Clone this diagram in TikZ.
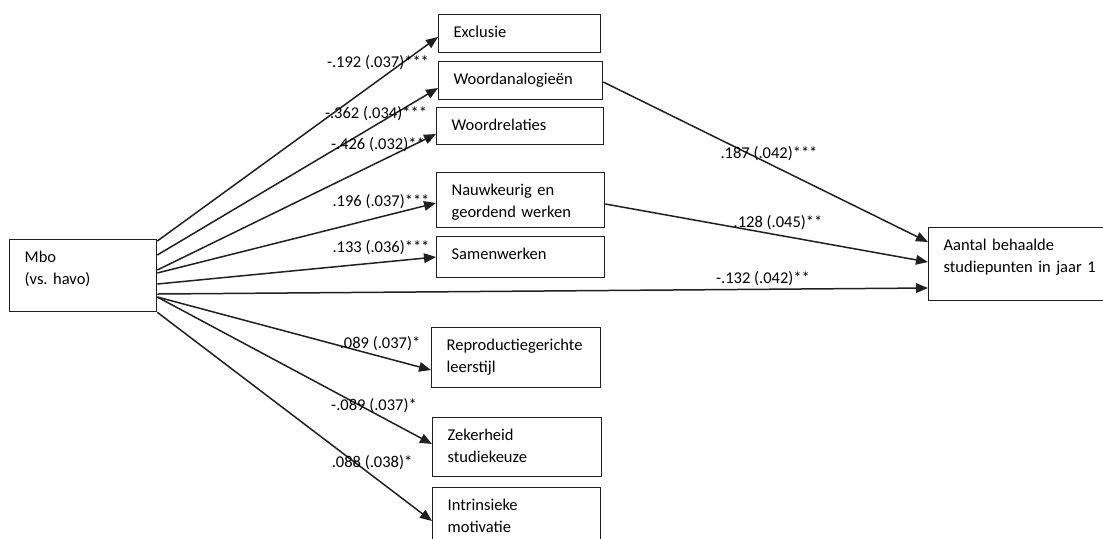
\documentclass[tikz,border=0pt]{standalone}
\usepackage{fontspec}
\setmainfont{Carlito}
\frenchspacing
\usetikzlibrary{arrows.meta,calc}
\definecolor{lijn}{HTML}{231F20}
\tikzset{
  var/.style={draw=lijn,line width=0.65pt,rectangle,anchor=north west,align=left,
    inner xsep=7.5pt,inner ysep=0pt,text height=11.5pt},
  pad/.style={draw=lijn,line width=0.75pt,-{Triangle[length=6pt,width=4.8pt]}},
  coef/.style={inner sep=0pt}
}

\begin{document}
\begin{tikzpicture}[x=0.5pt,y=-0.5pt,font=\fontsize{8.25}{11}\selectfont]
    \useasboundingbox (0,0) rectangle (1103,538);
    \clip (0,0) rectangle (1103,538);
    % variabelen
    \node[var,text width=58.5pt,text depth=24.5pt] (mbo) at (9,239) {Mbo\\(vs. havo)};
    \node[var,text width=66pt,text depth=7.5pt] (excl) at (438,14) {Exclusie};
    \node[var,text width=67pt,text depth=7.5pt] (wana) at (438,61) {Woordanalogieën};
    \node[var,text width=68.5pt,text depth=7pt] (wrel) at (436,107) {Woordrelaties};
    \node[var,text width=69pt,text depth=16pt] (nauw) at (436,172) {Nauwkeurig en\\geordend werken};
    \node[var,text width=69pt,text depth=9pt] (samen) at (436,236) {Samenwerken};
    \node[var,text width=69.5pt,text depth=18.5pt] (repro) at (431,327) {Reproductiegerichte\\leerstijl};
    \node[var,text width=69.5pt,text depth=18pt] (zeker) at (432,417) {Zekerheid\\studiekeuze};
    \node[var,text width=69pt,text depth=18.5pt] (intr) at (432,487) {Intrinsieke\\motivatie};
    \node[var,text width=85pt,text depth=25pt] (aantal) at (928,227) {Aantal behaalde\\studiepunten in jaar 1};
    % paden vanuit mbo
    \draw[pad] ($(mbo.north east)+(0,2)$) -- ($(excl.north west)+(0,23)$);
    \draw[pad] ($(mbo.north east)+(0,16)$) -- ($(wana.north west)+(0,27)$);
    \draw[pad] ($(mbo.north east)+(0,31)$) -- ($(wrel.north west)+(0,27)$);
    \draw[pad] ($(mbo.north east)+(0,34)$) -- ($(nauw.north west)+(0,31)$);
    \draw[pad] ($(mbo.north east)+(0,45)$) -- ($(samen.north west)+(0,21)$);
    \draw[pad] ($(mbo.north east)+(0,55)$) -- ($(aantal.north west)+(0,61)$);
    \draw[pad] ($(mbo.north east)+(0,58)$) -- ($(repro.north west)+(0,43)$);
    \draw[pad] ($(mbo.north east)+(0,58)$) -- ($(zeker.north west)+(0,27)$);
    \draw[pad] (mbo.south east) -- ($(intr.north west)+(0,34)$);
    % paden naar studiepunten
    \draw[pad] ($(wana.north east)+(0,21)$) -- ($(aantal.north west)+(0,15)$);
    \draw[pad] ($(nauw.north east)+(0,32)$) -- ($(aantal.north west)+(0,35)$);
    % coefficienten
    \node[coef] (c-excl) at (378,63) {-.192 (.037)***};
    \node[coef] (c-wana) at (376,114) {-.362 (.034)***};
    \node[coef] (c-wrel) at (382,145) {-.426 (.032)***};
    \node[coef] (c-nauw) at (381,202) {.196 (.037)***};
    \node[coef] (c-samen) at (381,248) {.133 (.036)***};
    \node[coef] (c-repro) at (380,344) {.089 (.037)*};
    \node[coef] (c-zeker) at (374,406) {-.089 (.037)*};
    \node[coef] (c-intr) at (372,463) {.088 (.038)*};
    \node[coef] (c-wana2) at (769,154) {.187 (.042)***};
    \node[coef] (c-nauw2) at (778,223) {.128 (.045)**};
    \node[coef] (c-mbo2) at (763,279) {-.132 (.042)**};
\end{tikzpicture}
\end{document}
